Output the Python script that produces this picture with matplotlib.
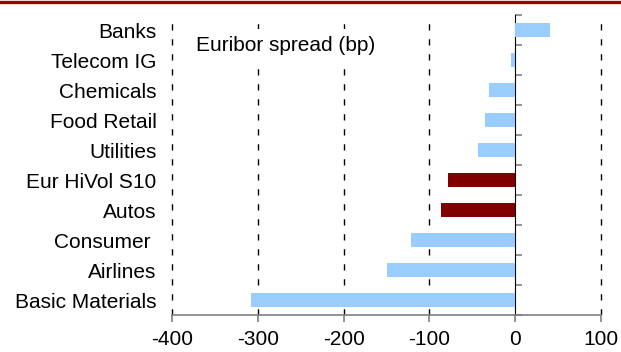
"""
Euribor spread by sector (bp)
"""

import matplotlib.pyplot as plt
import numpy as np
from matplotlib.lines import Line2D

plt.rcParams["font.family"] = ["Liberation Sans", "DejaVu Sans"]
plt.rcParams["lines.scale_dashes"] = False

# 上から順のセクター
sectors = [
    "Banks",
    "Telecom IG",
    "Chemicals",
    "Food Retail",
    "Utilities",
    "Eur HiVol S10",
    "Autos",
    "Consumer ",
    "Airlines",
    "Basic Materials",
]
spread_bp = [41, -5, -31, -35, -43, -78, -86, -122, -149, -308]
highlight = ["Eur HiVol S10", "Autos"]

x_ticks = [-400, -300, -200, -100, 0, 100]

LIGHT_BLUE = "#99CCFF"
DARK_RED = "#800000"
AXIS_GREY = "#808080"


def main():
    fig = plt.figure(figsize=(6.21, 3.52), dpi=100)
    ax = fig.add_axes([0.277, 0.105, 0.691, 0.852])

    y = np.arange(len(sectors))
    colors = [DARK_RED if s in highlight else LIGHT_BLUE for s in sectors]
    ax.barh(y, spread_bp, height=0.45, color=colors, zorder=3)

    ax.set_xlim(-400, 100)
    ax.set_ylim(len(sectors) - 0.5, -0.5)

    # 破線のグリッド（0 は軸線）
    for xv in x_ticks:
        if xv == 0:
            continue
        ax.axvline(xv, color="black", lw=1.0, dashes=(4.5, 6.3), zorder=1,
                   clip_on=False)

    for side in ["top", "right", "left"]:
        ax.spines[side].set_visible(False)
    ax.spines["bottom"].set_color(AXIS_GREY)
    ax.spines["bottom"].set_linewidth(1.2)
    ax.spines["bottom"].set_zorder(4)

    ax.set_xticks(x_ticks)
    ax.set_xticklabels([str(v) for v in x_ticks])
    ax.tick_params(axis="x", direction="out", length=5, width=1.2,
                   color=AXIS_GREY, labelsize=15, pad=6)

    ax.set_yticks(y)
    ax.set_yticklabels(sectors)
    ax.tick_params(axis="y", length=0, labelsize=15, pad=11)

    # 0 の位置の縦軸と区切り目盛り
    zero_axis = ax.secondary_yaxis(0.8)
    zero_axis.set_yticks(np.arange(len(sectors) + 1) - 0.5)
    zero_axis.set_yticklabels([])
    zero_axis.spines["left"].set_color(AXIS_GREY)
    zero_axis.spines["left"].set_linewidth(1.2)
    zero_axis.tick_params(direction="out", length=5, width=1.2, color=AXIS_GREY)

    ax.text(0.056, 0.9, "Euribor spread (bp)", transform=ax.transAxes,
            fontsize=15, va="center", ha="left", zorder=5,
            bbox=dict(facecolor="white", edgecolor="none", pad=5))

    # 上部の赤い線
    fig.add_artist(Line2D([0, 1], [0.9955, 0.9955], transform=fig.transFigure,
                          color="#A00000", lw=2.4))

    fig.savefig("out.png", dpi=100)
    plt.close(fig)


if __name__ == "__main__":
    main()
